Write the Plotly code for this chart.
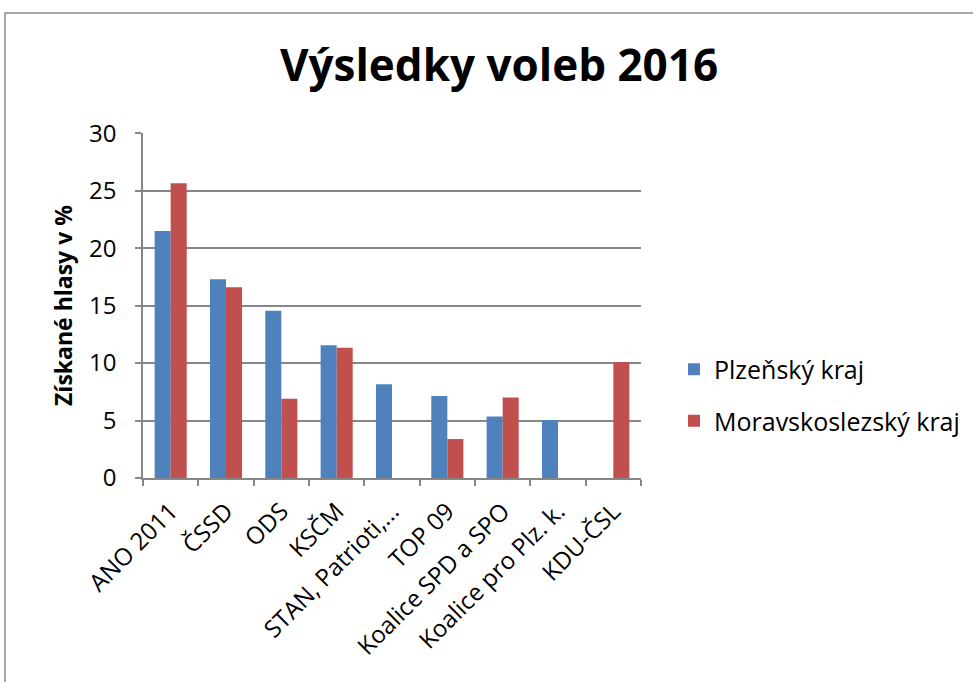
import plotly.graph_objects as go

categories = ["ANO 2011", "ČSSD", "ODS", "KSČM", "STAN, Patrioti,...", "TOP 09",
              "Koalice SPD a SPO", "Koalice pro Plz. k.", "KDU-ČSL"]
plzensky = [21.5, 17.3, 14.55, 11.55, 8.15, 7.13, 5.36, 5.04, None]
moravskoslezsky = [25.65, 16.6, 6.9, 11.33, None, 3.39, 7.01, None, 10.09]
y_ticks = [0, 5, 10, 15, 20, 25, 30]

FONT = "'Open Sans', sans-serif"
GRID = "#868686"

fig = go.Figure()
fig.add_trace(go.Bar(x=categories, y=plzensky, name="Plzeňský kraj",
                     marker=dict(color="#4F81BD", line=dict(width=0)), legendgroup="a"))
fig.add_trace(go.Bar(x=categories, y=moravskoslezsky, name="Moravskoslezský kraj",
                     marker=dict(color="#C0504D", line=dict(width=0)), legendgroup="b"))

L, R, T, B = 143, 332, 133, 204
W, H = 973 - L - R, 682 - T - B

fig.update_layout(
    width=973, height=682,
    margin=dict(l=L, r=R, t=T, b=B, autoexpand=False),
    paper_bgcolor="white", plot_bgcolor="white",
    barmode="group", bargap=0.42, bargroupgap=0,
    font=dict(family=FONT, size=24, color="black"),
    title=dict(text="<b>Výsledky voleb 2016</b>", x=(499 - L) / W, xref="paper", xanchor="center",
               y=1 - 66 / 682, yanchor="middle", yref="container",
               font=dict(size=44, family=FONT, color="black")),
    xaxis=dict(type="category", tickangle=-45, tickson="boundaries", ticks="outside",
               ticklen=6, tickcolor=GRID, tickwidth=1.5, showline=True, linecolor=GRID,
               linewidth=1.5, showgrid=False, automargin=False, ticklabelstandoff=8,
               tickfont=dict(size=24, family=FONT)),
    yaxis=dict(range=[0, 30.02], tickvals=y_ticks, ticks="outside", ticklen=6, tickcolor=GRID,
               tickwidth=1.5, showline=True, linecolor=GRID, linewidth=1.5,
               showgrid=True, gridcolor=GRID, gridwidth=1.5, zeroline=False,
               ticklabelstandoff=14, automargin=False,
               tickfont=dict(size=24, family=FONT),
               title=dict(text="<b>Získané hlasy v %</b>", standoff=10,
                          font=dict(size=23, family=FONT))),
    legend=dict(x=(674 - L) / W, xanchor="left", y=(478 - 395) / H, yanchor="middle",
                font=dict(size=25, family=FONT), tracegroupgap=16,
                bgcolor="rgba(0,0,0,0)"),
    showlegend=True,
)

fig.add_shape(type="rect", xref="paper", yref="paper",
              x0=(5 - L) / W, x1=(1000 - L) / W, y0=(478 - 700) / H, y1=(478 - 13) / H,
              line=dict(color="#8a8a8a", width=1.5), fillcolor="rgba(0,0,0,0)", layer="below")

fig.write_html("out.html", config={"displayModeBar": False},
               post_script="document.body.style.margin='0';document.body.style.overflow='hidden';")
